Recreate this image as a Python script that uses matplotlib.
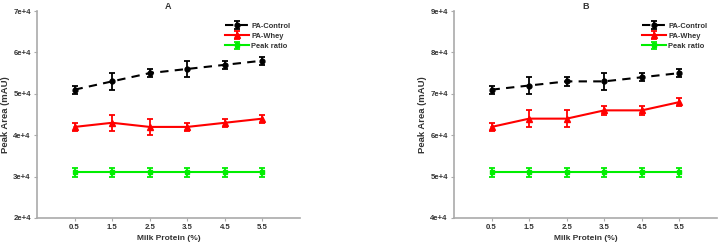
import matplotlib
matplotlib.use("Agg")
import matplotlib.pyplot as plt

plt.rcParams['font.family'] = ['Liberation Sans', 'DejaVu Sans']
plt.rcParams['font.weight'] = 'bold'

# data
protein = [0.5, 1.5, 2.5, 3.5, 4.5, 5.5]
xticklabels = ['0.5', '1.5', '2.5', '3.5', '4.5', '5.5']

a_control = [51000, 53000, 55000, 56000, 57000, 58000]
a_control_err = [1000, 2000, 1000, 2000, 1000, 1000]
a_whey = [42000, 43000, 42000, 42000, 43000, 44000]
a_whey_err = [1000, 2000, 2000, 1000, 1000, 1000]
a_ratio = [31000, 31000, 31000, 31000, 31000, 31000]
a_ratio_err = [1000, 1000, 1000, 1000, 1000, 1000]

b_control = [71000, 72000, 73000, 73000, 74000, 75000]
b_control_err = [1000, 2000, 1000, 2000, 1000, 1000]
b_whey = [62000, 64000, 64000, 66000, 66000, 68000]
b_whey_err = [1000, 2000, 2000, 1000, 1000, 1000]
b_ratio = [51000, 51000, 51000, 51000, 51000, 51000]
b_ratio_err = [1000, 1000, 1000, 1000, 1000, 1000]

a_yticks = [20000, 30000, 40000, 50000, 60000, 70000]
a_ylabels = ['2e+4', '3e+4', '4e+4', '5e+4', '6e+4', '7e+4']
b_yticks = [40000, 50000, 60000, 70000, 80000, 90000]
b_ylabels = ['4e+4', '5e+4', '6e+4', '7e+4', '8e+4', '9e+4']

fig = plt.figure(figsize=(7.19, 2.48), dpi=100)
W, H = 719, 248

def panel(left, title, ctrl, ctrl_e, whey, whey_e, ratio, ratio_e, yt, yl):
    ax = fig.add_axes([left / W, 1 - 218 / H, 263 / W, 207 / H])
    kw = dict(lw=1.5, capsize=2.5, elinewidth=1.3, capthick=1.3)
    ax.errorbar(protein, ctrl, yerr=ctrl_e, color='black', ls=(0, (4, 3)),
                marker='o', ms=3.5, label='PA-Control', **kw)
    ax.errorbar(protein, whey, yerr=whey_e, color='#ff0000', ls='-',
                marker='^', ms=4.5, label='PA-Whey', **kw)
    ax.errorbar(protein, ratio, yerr=ratio_e, color='#00ee00', ls='-',
                marker='s', ms=3.5, label='Peak ratio', **kw)
    ax.set_xlim(-0.5, 6.5)
    ax.set_ylim(yt[0], yt[-1])
    ax.set_xticks(protein)
    ax.set_xticklabels(xticklabels)
    ax.set_yticks(yt)
    ax.set_yticklabels(yl)
    for s in ['top', 'right']:
        ax.spines[s].set_visible(False)
    for s in ['left', 'bottom']:
        ax.spines[s].set_color('#aaaaaa')
        ax.spines[s].set_linewidth(1.2)
    ax.tick_params(axis='both', colors='#aaaaaa', labelcolor='#333333', labelsize=5.6,
                   direction='out', length=2, width=0.8, pad=2.5)
    ax.set_xlabel('Milk Protein (%)', fontsize=6, fontweight='bold', color='#333333', labelpad=3)
    ax.set_ylabel('Peak Area (mAU)', fontsize=6.8, fontweight='bold', color='#333333', labelpad=2.5)
    ax.set_title(title, fontsize=6.5, fontweight='bold', color='#333333', pad=1.5)
    leg = ax.legend(loc='upper left', frameon=False, fontsize=5.4, handlelength=3.2,
                    handletextpad=0.3, labelspacing=0.4,
                    bbox_to_anchor=(185 / 263, 0.96), borderaxespad=0.0)
    for t in leg.get_texts():
        t.set_color('#333333')
    return ax

panel(37, 'A', a_control, a_control_err, a_whey, a_whey_err, a_ratio, a_ratio_err, a_yticks, a_ylabels)
panel(454, 'B', b_control, b_control_err, b_whey, b_whey_err, b_ratio, b_ratio_err, b_yticks, b_ylabels)

fig.savefig('out.png', dpi=100)
